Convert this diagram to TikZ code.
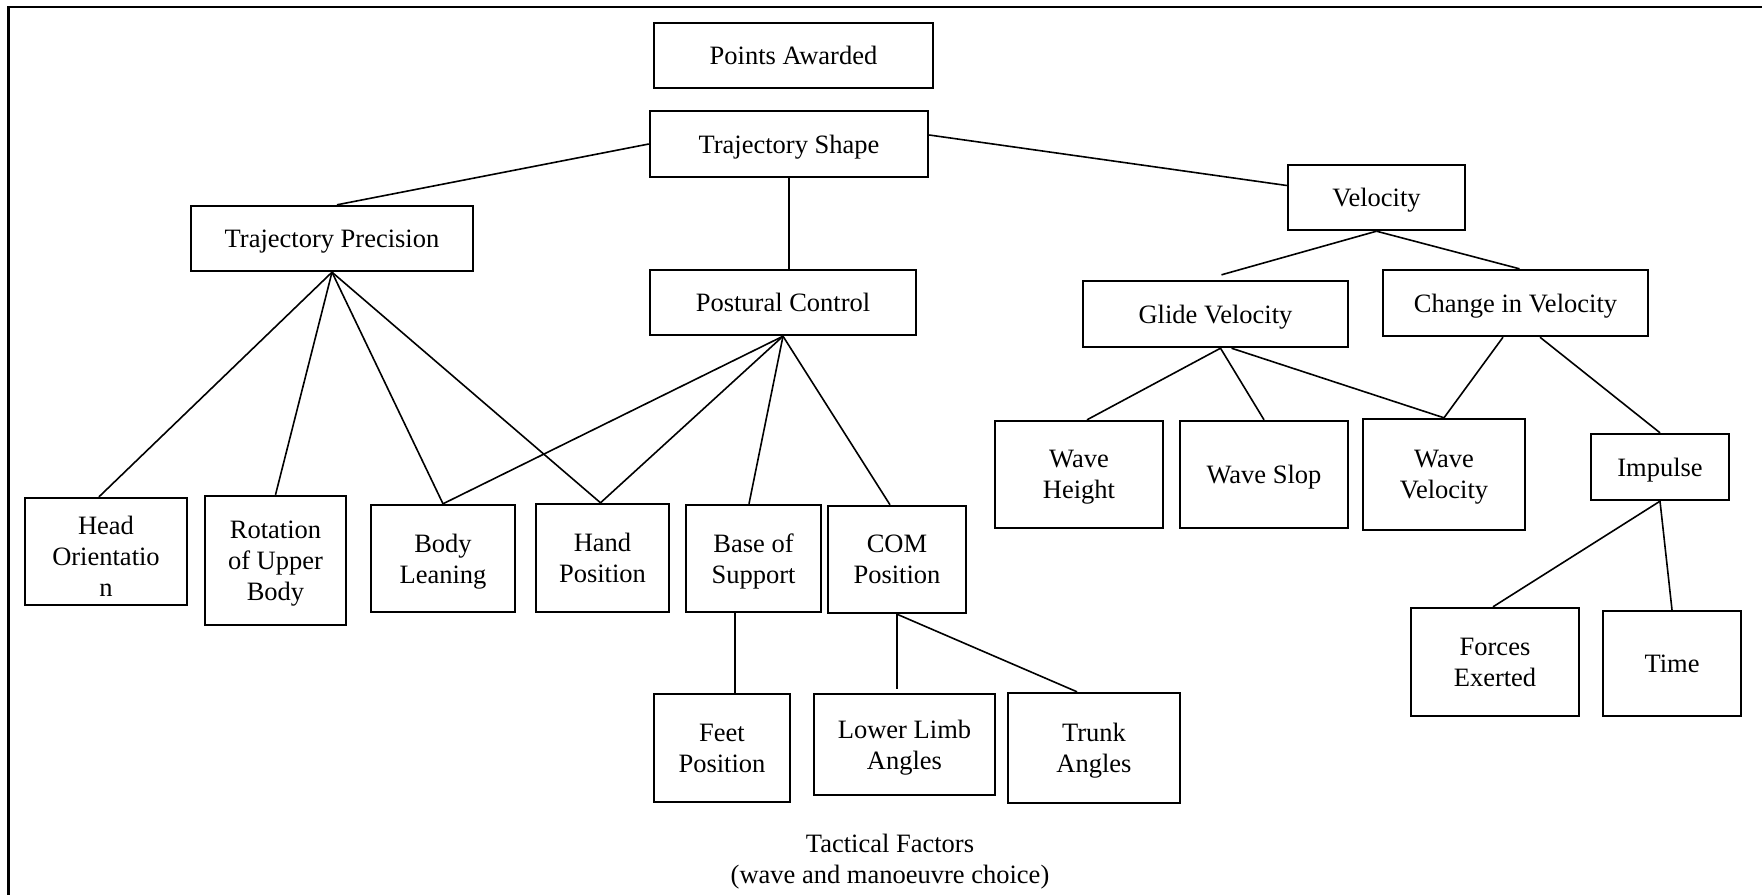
\documentclass[tikz,border=0pt]{standalone}
\usepackage{fontspec}
\setmainfont{Liberation Serif}
\tikzset{
  box/.style={draw, line width=1.2pt, inner sep=0pt, align=center, text depth=0pt,
    font=\fontsize{13.25}{15.5}\selectfont},
  link/.style={line width=0.8pt},
  frameline/.style={line width=1.2pt},
  caption/.style={align=center, inner sep=0pt, font=\fontsize{13.25}{15.5}\selectfont}
}
\begin{document}
\begin{tikzpicture}[x=0.5pt,y=-0.5pt]
\useasboundingbox (0,0) rectangle (1762,895);
\draw[frameline] (1762,6.7) -- (8.6,6.7) -- (8.6,895);

% level 0-1
\node[box, minimum width=139.5pt, minimum height=32.5pt] (pa) at (793.5,55.5) {Points Awarded};
\node[box, minimum width=139pt, minimum height=33pt] (ts) at (789,144) {Trajectory Shape};
\node[box, minimum width=141pt, minimum height=32.5pt] (tp) at (332,238.5) {Trajectory Precision};
\node[box, minimum width=133pt, minimum height=32.5pt] (pc) at (783,302.5) {Postural Control};
\node[box, minimum width=88.5pt, minimum height=32.5pt] (vel) at (1376.5,197.5) {Velocity};
\node[box, minimum width=132.5pt, minimum height=33pt] (gv) at (1215.5,314) {Glide Velocity};
\node[box, minimum width=132.5pt, minimum height=33pt] (civ) at (1515.5,303) {Change in Velocity};

% left leaves
\node[box, minimum width=81pt, minimum height=53.5pt, text height=44.5pt] (ho) at (106,551.5) {Head\\Orientatio\\n};
\node[box, minimum width=70.5pt, minimum height=64.5pt] (rub) at (275.5,560.5) {Rotation\\of Upper\\Body};
\node[box, minimum width=72pt, minimum height=53.5pt] (bl) at (443,558.5) {Body\\Leaning};
\node[box, minimum width=66.5pt, minimum height=54pt] (hp) at (602.5,558) {Hand\\Position};
\node[box, minimum width=67.5pt, minimum height=53.5pt] (bos) at (753.5,558.5) {Base of\\Support};
\node[box, minimum width=69pt, minimum height=53.5pt] (com) at (897,559.5) {COM\\Position};
\node[box, minimum width=68pt, minimum height=54pt] (fp) at (722,748) {Feet\\Position};
\node[box, minimum width=90.5pt, minimum height=50.5pt] (lla) at (904.5,744.5) {Lower Limb\\Angles};
\node[box, minimum width=86pt, minimum height=55pt] (ta) at (1094,748) {Trunk\\Angles};

% right leaves
\node[box, minimum width=84pt, minimum height=53.5pt] (wh) at (1079,474.5) {Wave\\Height};
\node[box, minimum width=84pt, minimum height=53.5pt] (ws) at (1264,474.5) {Wave Slop};
\node[box, minimum width=81pt, minimum height=55.5pt] (wv) at (1444,474.5) {Wave\\Velocity};
\node[box, minimum width=69pt, minimum height=33pt] (imp) at (1660,467) {Impulse};
\node[box, minimum width=84pt, minimum height=54pt] (fe) at (1495,662) {Forces\\Exerted};
\node[box, minimum width=69pt, minimum height=52.5pt] (time) at (1672,663.5) {Time};

\node[caption] (tact) at (890,862) {Tactical Factors\\(wave and manoeuvre choice)};

% connectors
\draw[link] (ts.west) -- ([xshift=2.5pt]tp.north);
\draw[link] (ts.south) -- (ts.south |- pc.north);
\draw[link] ([yshift=4.5pt]ts.east) -- ([yshift=6pt]vel.west);

\draw[link] (tp.south) -- ([xshift=-3.5pt]ho.north);
\draw[link] (tp.south) -- (rub.north);
\draw[link] (tp.south) -- (bl.north);
\draw[link] (tp.south) -- ([xshift=-1pt]hp.north);

\draw[link] (pc.south) -- (bl.north);
\draw[link] (pc.south) -- ([xshift=-1pt]hp.north);
\draw[link] (pc.south) -- ([xshift=-2.25pt]bos.north);
\draw[link] (pc.south) -- ([xshift=-3.5pt]com.north);

\draw[link] ([xshift=-9.25pt]bos.south) -- ([xshift=-9.25pt]bos.south |- fp.north);
\draw[link] (com.south) -- ([yshift=2pt]com.south |- lla.north);
\draw[link] (com.south) -- ([xshift=-8.5pt]ta.north);

\draw[link] (vel.south) -- ([xshift=3pt,yshift=2.5pt]gv.north);
\draw[link] (vel.south) -- ([xshift=2pt]civ.north);

\draw[link] ([xshift=2.5pt]gv.south) -- ([xshift=4pt]wh.north);
\draw[link] ([xshift=2.5pt]gv.south) -- (ws.north);
\draw[link] ([xshift=8pt]gv.south) -- (wv.north);
\draw[link] ([xshift=-6.25pt]civ.south) -- (wv.north);
\draw[link] ([xshift=12.25pt]civ.south) -- (imp.north);

\draw[link] (imp.south) -- ([xshift=-1pt]fe.north);
\draw[link] (imp.south) -- (time.north);
\end{tikzpicture}
\end{document}
